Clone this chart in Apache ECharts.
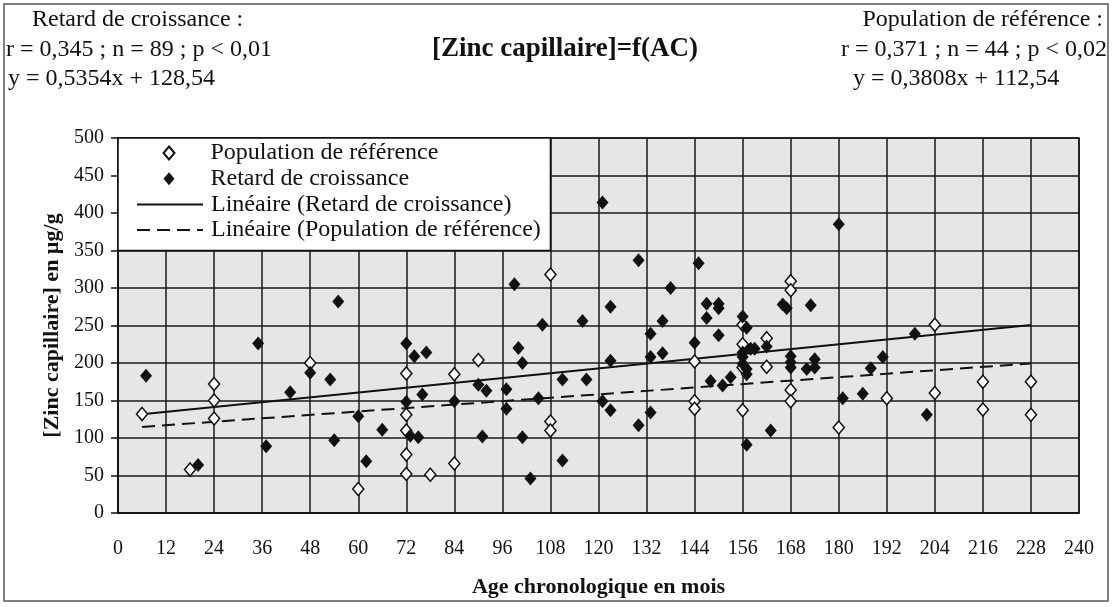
<!DOCTYPE html>
<html lang="fr">
<head>
<meta charset="utf-8">
<title>[Zinc capillaire]=f(AC)</title>
<script src="https://cdn.jsdelivr.net/npm/echarts@6/dist/echarts.min.js"></script>
<style type="text/css">
  html, body { margin: 0; padding: 0; background: #fff; }
  #chart { width: 1113px; height: 607px; }
</style>
</head>
<body>
<div id="chart"></div>
<script type="text/javascript">
// age (mois), zinc (µg/g)
var refPoints = [
  [6, 132], [18, 58], [24, 172], [24, 150], [24, 126], [48, 200], [60, 32],
  [72, 186], [72, 131], [72, 110], [72, 78], [72, 52], [78, 51], [84, 185],
  [84, 66], [90, 204], [108, 318], [108, 122], [108, 110], [144, 202],
  [144, 149], [144, 139], [156, 251], [156, 225], [156, 194], [156, 137],
  [162, 233], [162, 195], [168, 309], [168, 297], [168, 164], [168, 149],
  [180, 114], [192, 153], [204, 251], [204, 160], [216, 175], [216, 138],
  [228, 175], [228, 131]
];
var retardPoints = [
  [7, 183], [20, 64], [35, 226], [37, 89], [43, 161], [48, 187], [53, 178],
  [55, 282], [54, 97], [60, 129], [62, 69], [66, 111], [72, 226], [72, 148],
  [73, 103], [74, 209], [77, 214], [76, 158], [75, 101], [90, 171], [92, 163],
  [91, 102], [84, 149], [97, 165], [97, 139], [99, 305], [100, 220], [101, 200],
  [101, 101], [103, 46], [105, 153], [106, 251], [111, 178], [111, 70],
  [116, 256], [117, 178], [121, 414], [121, 149], [123, 137], [123, 275],
  [123, 203], [130, 337], [130, 117], [133, 239], [133, 208], [133, 134],
  [136, 256], [136, 213], [138, 300], [144, 227], [145, 333], [147, 279],
  [150, 279], [150, 273], [147, 260], [150, 237], [148, 176], [151, 170],
  [153, 181], [156, 262], [157, 247], [156, 214], [158, 219], [159, 219],
  [156, 208], [156, 199], [157, 192], [157, 185], [162, 222], [157, 91],
  [163, 110], [166, 278], [167, 273], [173, 277], [168, 209], [168, 201],
  [168, 194], [172, 192], [174, 205], [174, 194], [180, 385], [181, 153],
  [186, 159], [188, 193], [191, 208], [199, 239], [202, 131]
];
// trend lines, end points
var trendRetard = [[6, 131.8], [228, 250.6]];
var trendRef = [[6, 114.8], [228, 199.4]];

var seriesNames = ['Population de référence', 'Retard de croissance',
  'Linéaire (Retard de croissance)', 'Linéaire (Population de référence)'];

var statsLeft = ['Retard de croissance :', 'r = 0,345 ; n = 89 ; p < 0,01', 'y = 0,5354x + 128,54'];
var statsRight = ['Population de référence :', 'r = 0,371 ; n = 44 ; p < 0,02', 'y = 0,3808x + 112,54'];

var serif = '"Liberation Serif", "Times New Roman", serif';
var chart = echarts.init(document.getElementById('chart'));

function txt(x, y, s, align, extra) {
  var st = { text: s, x: 0, y: 0, fill: '#111', font: '24px ' + serif, align: align, verticalAlign: 'middle' };
  if (extra) { for (var k in extra) st[k] = extra[k]; }
  return { type: 'text', x: x, y: y, style: st, z: 10 };
}

var legendText = { fontFamily: serif, fontSize: 24, color: '#111', lineHeight: 25 };
var rowStep = 25.7;

var option = {
  backgroundColor: '#fff',
  animation: false,
  grid: {
    left: 118, right: 34, top: 138, bottom: 94,
    show: true, backgroundColor: '#e6e6e6', borderColor: '#111', borderWidth: 1.5
  },
  legend: [
    { // diamonds
      orient: 'vertical', left: 162.5, top: 140.5, padding: 0,
      itemWidth: 11, itemHeight: 13, itemGap: rowStep - 25,
      textStyle: echarts.util.extend({ padding: [0, 0, 0, 31] }, legendText),
      data: [seriesNames[0], seriesNames[1]], z: 6
    },
    { // trend lines
      orient: 'vertical', left: 136, top: 140.5 + 2 * rowStep, padding: 0,
      itemWidth: 66, itemHeight: 2, itemGap: rowStep - 25,
      itemStyle: { opacity: 0 },
      textStyle: echarts.util.extend({ padding: [0, 0, 0, 3] }, legendText),
      data: [seriesNames[2], seriesNames[3]], z: 6
    }
  ],
  xAxis: {
    type: 'value', min: 0, max: 240, interval: 12,
    name: 'Age chronologique en mois', nameLocation: 'middle', nameGap: 63,
    nameTextStyle: { fontFamily: serif, fontSize: 22, fontWeight: 'bold', color: '#111' },
    axisLine: { show: true, lineStyle: { color: '#111', width: 1.5 } },
    axisTick: { show: false },
    axisLabel: { fontFamily: serif, fontSize: 20, color: '#111', margin: 26 },
    splitLine: { show: true, lineStyle: { color: '#1a1a1a', width: 1.5 } }
  },
  yAxis: {
    type: 'value', min: 0, max: 500, interval: 50,
    name: '[Zinc capillaire] en µg/g', nameLocation: 'middle', nameGap: 52, nameRotate: 90,
    nameTextStyle: { fontFamily: serif, fontSize: 22, fontWeight: 'bold', color: '#111' },
    axisLine: { show: true, lineStyle: { color: '#111', width: 1.5 } },
    axisTick: { show: true, inside: false, length: 7, lineStyle: { color: '#111', width: 1.5 } },
    axisLabel: { fontFamily: serif, fontSize: 20, color: '#111', margin: 14 },
    splitLine: { show: true, lineStyle: { color: '#1a1a1a', width: 1.5 } }
  },
  series: [
    {
      name: seriesNames[0], type: 'scatter', data: refPoints, symbol: 'diamond', symbolSize: [11, 13],
      itemStyle: { color: '#fff', borderColor: '#111', borderWidth: 1.6, opacity: 1 }, z: 4
    },
    {
      name: seriesNames[1], type: 'scatter', data: retardPoints, symbol: 'diamond', symbolSize: [12, 14],
      itemStyle: { color: '#111', opacity: 1 }, z: 5
    },
    {
      name: seriesNames[2], type: 'line', data: trendRetard, symbol: 'none', silent: true,
      lineStyle: { color: '#111', width: 2, type: 'solid' }, itemStyle: { color: '#111' }, z: 3
    },
    {
      name: seriesNames[3], type: 'line', data: trendRef, symbol: 'none', silent: true,
      lineStyle: { color: '#111', width: 2, type: [13, 7] }, itemStyle: { color: '#111' }, z: 3
    }
  ]
};
chart.setOption(option);

// white box behind the legend, over the grid from 0..108 months and 350..500
var p0 = chart.convertToPixel({ gridIndex: 0 }, [0, 500]);
var p1 = chart.convertToPixel({ gridIndex: 0 }, [108, 350]);

var gfx = [
  { type: 'rect', shape: { x: 4, y: 4, width: 1104, height: 597 },
    style: { fill: 'none', stroke: '#555', lineWidth: 1.5 }, z: 10, silent: true },
  { type: 'rect', shape: { x: p0[0], y: p0[1], width: p1[0] - p0[0], height: p1[1] - p0[1] },
    style: { fill: '#fff', stroke: '#111', lineWidth: 1.5 }, z: 5, silent: true },
  txt(565, 49, '[Zinc capillaire]=f(AC)', 'center', { font: 'bold 27px ' + serif })
];
var leftX = [32, 6, 8];
for (var i = 0; i < statsLeft.length; i++) {
  gfx.push(txt(leftX[i], 20 + i * 29.5, statsLeft[i], 'left'));
  gfx.push(txt(i === 1 ? 1107 : (i === 0 ? 1103 : 853), 20 + i * 29.5, statsRight[i], i === 2 ? 'left' : 'right'));
}
chart.setOption({ graphic: gfx });
</script>
</body>
</html>
